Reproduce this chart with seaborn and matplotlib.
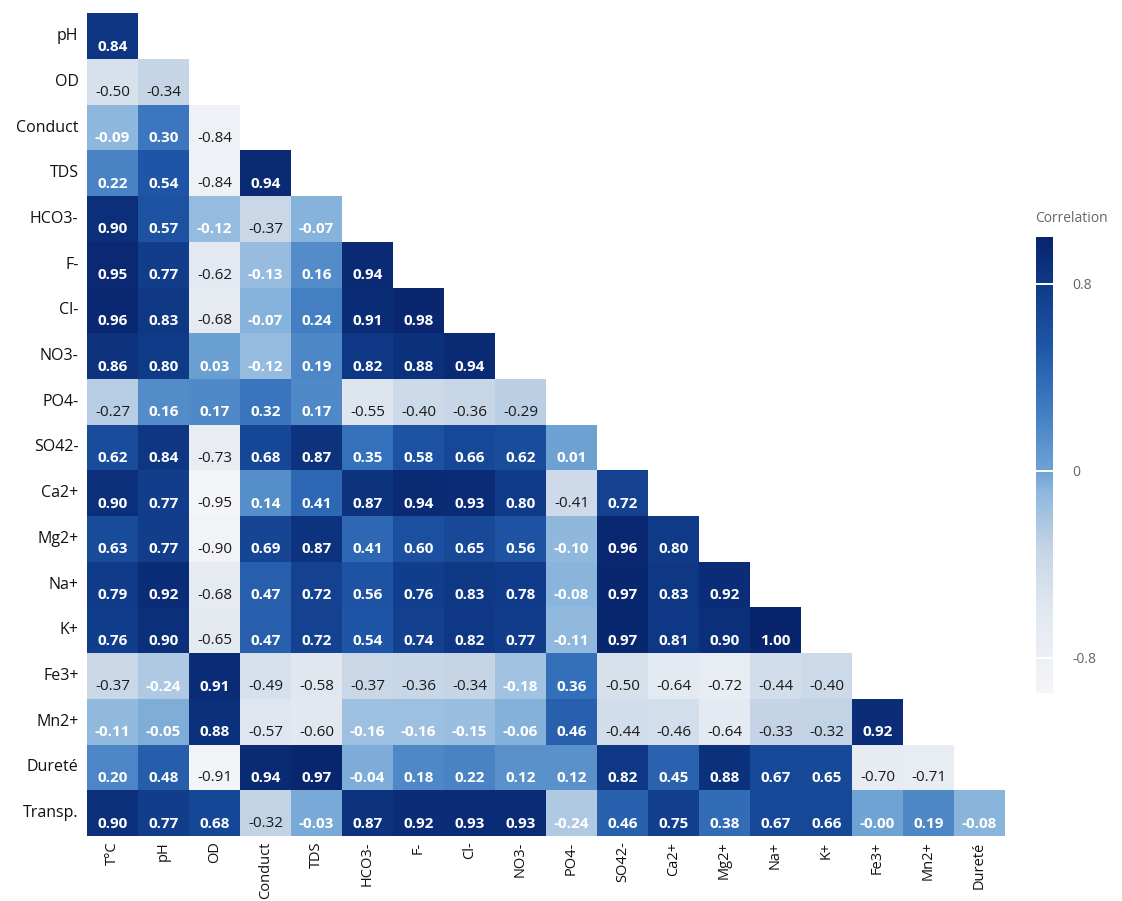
import numpy as np
import pandas as pd
import matplotlib
matplotlib.use("Agg")
import matplotlib.pyplot as plt
from matplotlib.colors import LinearSegmentedColormap
import seaborn as sns

# Variables of the water-quality correlation matrix
col_labels = ["T°C", "pH", "OD", "Conduct", "TDS", "HCO3-", "F-", "Cl-", "NO3-",
              "PO4-", "SO42-", "Ca2+", "Mg2+", "Na+", "K+", "Fe3+", "Mn2+", "Dureté"]
row_labels = ["pH", "OD", "Conduct", "TDS", "HCO3-", "F-", "Cl-", "NO3-", "PO4-",
              "SO42-", "Ca2+", "Mg2+", "Na+", "K+", "Fe3+", "Mn2+", "Dureté", "Transp."]

# Lower-triangle correlation coefficients, one list per row
r_pH = [0.84]
r_OD = [-0.50, -0.34]
r_Conduct = [-0.09, 0.30, -0.84]
r_TDS = [0.22, 0.54, -0.84, 0.94]
r_HCO3 = [0.90, 0.57, -0.12, -0.37, -0.07]
r_F = [0.95, 0.77, -0.62, -0.13, 0.16, 0.94]
r_Cl = [0.96, 0.83, -0.68, -0.07, 0.24, 0.91, 0.98]
r_NO3 = [0.86, 0.80, 0.03, -0.12, 0.19, 0.82, 0.88, 0.94]
r_PO4 = [-0.27, 0.16, 0.17, 0.32, 0.17, -0.55, -0.40, -0.36, -0.29]
r_SO4 = [0.62, 0.84, -0.73, 0.68, 0.87, 0.35, 0.58, 0.66, 0.62, 0.01]
r_Ca = [0.90, 0.77, -0.95, 0.14, 0.41, 0.87, 0.94, 0.93, 0.80, -0.41, 0.72]
r_Mg = [0.63, 0.77, -0.90, 0.69, 0.87, 0.41, 0.60, 0.65, 0.56, -0.10, 0.96, 0.80]
r_Na = [0.79, 0.92, -0.68, 0.47, 0.72, 0.56, 0.76, 0.83, 0.78, -0.08, 0.97, 0.83, 0.92]
r_K = [0.76, 0.90, -0.65, 0.47, 0.72, 0.54, 0.74, 0.82, 0.77, -0.11, 0.97, 0.81, 0.90, 1.00]
r_Fe = [-0.37, -0.24, 0.91, -0.49, -0.58, -0.37, -0.36, -0.34, -0.18, 0.36, -0.50,
        -0.64, -0.72, -0.44, -0.40]
r_Mn = [-0.11, -0.05, 0.88, -0.57, -0.60, -0.16, -0.16, -0.15, -0.06, 0.46, -0.44,
        -0.46, -0.64, -0.33, -0.32, 0.92]
r_Durete = [0.20, 0.48, -0.91, 0.94, 0.97, -0.04, 0.18, 0.22, 0.12, 0.12, 0.82, 0.45,
            0.88, 0.67, 0.65, -0.70, -0.71]
r_Transp = [0.90, 0.77, 0.68, -0.32, -0.03, 0.87, 0.92, 0.93, 0.93, -0.24, 0.46, 0.75,
            0.38, 0.67, 0.66, -0.00, 0.19, -0.08]

rows = [r_pH, r_OD, r_Conduct, r_TDS, r_HCO3, r_F, r_Cl, r_NO3, r_PO4, r_SO4, r_Ca,
        r_Mg, r_Na, r_K, r_Fe, r_Mn, r_Durete, r_Transp]

cbar_ticks = [-0.8, 0, 0.8]
cbar_ticklabels = ["-0.8", "0", "0.8"]

n = len(col_labels)
mat = np.full((len(row_labels), n), np.nan)
for i, vals in enumerate(rows):
    mat[i, :len(vals)] = vals
corr = pd.DataFrame(mat, index=row_labels, columns=col_labels)

vmin, vmax = -0.95, 1.0

# Grey-white to navy blue scale, anchored at correlation values
anchors = [(-0.95, "#f4f5f8"), (-0.60, "#e2e8f0"), (-0.34, "#c6d5e6"),
           (-0.09, "#8db7dd"), (0.00, "#6ea3d3"), (0.30, "#3b77bf"),
           (0.54, "#1f55a6"), (0.80, "#0f3a88"), (1.00, "#08246c")]
cmap = LinearSegmentedColormap.from_list(
    "corr_blues", [((v - vmin) / (vmax - vmin), c) for v, c in anchors])

sns.set_style("white")
plt.rcParams["font.family"] = ["Open Sans", "DejaVu Sans"]

fig = plt.figure(figsize=(11.22, 9.01), dpi=100)
ax = fig.add_axes([0.0775, 0.0722, 0.8182, 0.913])
cax = fig.add_axes([0.9234, 0.2309, 0.0152, 0.506])

sns.heatmap(corr, ax=ax, cmap=cmap, vmin=vmin, vmax=vmax, cbar=True, cbar_ax=cax,
            mask=corr.isna(), linewidths=0, square=False,
            cbar_kws={"ticks": cbar_ticks})

# Cell annotations, placed in the lower part of each cell
for i in range(corr.shape[0]):
    for j in range(corr.shape[1]):
        v = corr.iat[i, j]
        if np.isnan(v):
            continue
        dark = v < -0.25
        ax.text(j + 0.5, i + 0.73, f"{v:.2f}", ha="center", va="center",
                fontsize=11, color="#1a1a1a" if dark else "white",
                fontweight="normal" if dark else "bold")

ax.set_xlabel("")
ax.set_ylabel("")
ax.tick_params(axis="both", length=0, colors="#111111")
ax.tick_params(axis="x", pad=4, labelsize=10.5)
ax.tick_params(axis="y", pad=6, labelsize=11.5)
ax.set_xticklabels(col_labels, rotation=90)
ax.set_yticklabels(row_labels, rotation=0)
for s in ax.spines.values():
    s.set_visible(False)

# Colour bar: no outline, white separator lines at the tick values
cbar = ax.collections[0].colorbar
cbar.outline.set_visible(False)
cbar.set_ticks(cbar_ticks)
cbar.set_ticklabels(cbar_ticklabels)
for t in cbar_ticks:
    cax.axhline(t, color="white", lw=1.4, zorder=5)
cax.tick_params(axis="y", length=0, labelsize=10, labelcolor="#666666", pad=14)
fig.text(1035 / 1122, 1 - 218 / 901, "Correlation", ha="left", va="center",
         fontsize=10, color="#666666")

fig.savefig("out.png", dpi=100, facecolor="white")
